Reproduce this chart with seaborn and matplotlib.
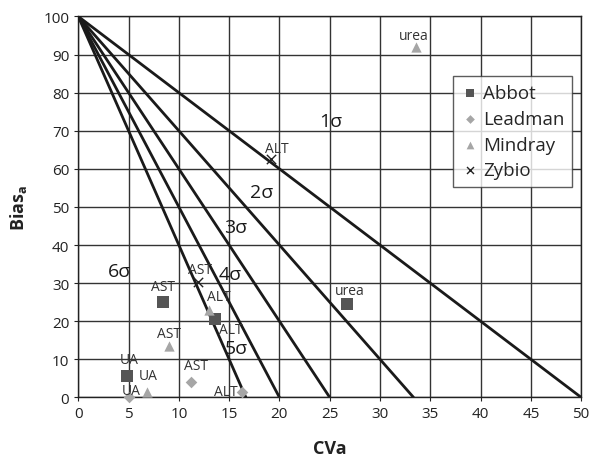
import matplotlib.pyplot as plt
import numpy as np
import pandas as pd
import seaborn as sns

# data
brands = ["Abbot"] * 4 + ["Leadman"] * 3 + ["Mindray"] * 4 + ["Zybio"] * 2
analytes = ["AST", "ALT", "UA", "urea",
            "AST", "ALT", "UA",
            "urea", "ALT", "AST", "UA",
            "ALT", "AST"]
cva = [8.4, 13.6, 4.8, 26.7,
       11.2, 16.3, 5.0,
       33.6, 13.0, 9.0, 6.8,
       19.2, 11.9]
bias = [25.0, 20.5, 5.7, 24.4,
        4.1, 1.3, 0.0,
        92.0, 23.0, 13.5, 1.5,
        62.5, 30.2]

line_divisors = [2, 3, 4, 5, 6]  # lines from (0,100) to (100/d, 0)
sigma_labels = ["1σ", "2σ", "3σ", "4σ", "5σ", "6σ"]
sigma_pos = [(25.1, 72.5), (18.2, 53.8), (15.6, 44.7), (15.1, 32.4), (15.7, 13.0), (4.1, 33.2)]

df = pd.DataFrame({"brand": brands, "analyte": analytes, "cva": cva, "bias": bias})

# label centre offsets (points) for each annotation
offsets = [(0, 11.5), (11.5, -7.2), (2, 11.5), (2, 10),
           (3.6, 11.5), (-11.5, 0.7), (1.7, 5),
           (-2, 8.6), (6.7, 9.6), (0, 9), (1, 11.5),
           (4, 8), (1.7, 9)]

sns.set_style("white")
plt.rcParams["font.family"] = ["Open Sans", "DejaVu Sans"]
plt.rcParams["mathtext.default"] = "regular"

fig = plt.figure(figsize=(5.93, 4.60), dpi=100)
ax = fig.add_axes([0.132, 0.134, 0.848, 0.828])

ax.grid(True, color="#333333", linewidth=1.0)
ax.set_axisbelow(True)

for d in line_divisors:
    ld = pd.DataFrame({"x": [0, 100 / d], "y": [100, 0]})
    sns.lineplot(data=ld, x="x", y="y", color="#1a1a1a", linewidth=2.0, ax=ax, zorder=3)

palette = {"Abbot": "#555555", "Leadman": "#a6a6a6", "Mindray": "#a6a6a6", "Zybio": "#222222"}
markers = {"Abbot": "s", "Leadman": "D", "Mindray": "^", "Zybio": "x"}
sizes = {"Abbot": 70, "Leadman": 35, "Mindray": 55, "Zybio": 45}
for b in ["Abbot", "Leadman", "Mindray", "Zybio"]:
    sub = df[df.brand == b]
    sns.scatterplot(data=sub, x="cva", y="bias", color=palette[b], marker=markers[b],
                    s=sizes[b], linewidth=1.0 if b == "Zybio" else 0, label=b, ax=ax,
                    zorder=4, clip_on=False)

for (x, y, t), off in zip(zip(df.cva, df.bias, df.analyte), offsets):
    ax.annotate(t, (x, y), xytext=off, textcoords="offset points", ha="center",
                va="center", fontsize=10, color="#333333", zorder=5)

for lab, (x, y) in zip(sigma_labels, sigma_pos):
    ax.text(x, y, lab, fontsize=14, ha="center", va="center", color="#1a1a1a", zorder=5)

ax.set_xlim(0, 50)
ax.set_ylim(0, 100)
ax.set_xticks(np.arange(0, 51, 5))
ax.set_yticks(np.arange(0, 101, 10))
ax.tick_params(labelsize=11, colors="#222222", length=3, direction="out", left=True, bottom=True)
for s in ax.spines.values():
    s.set_color("#222222")
    s.set_linewidth(1.0)

ax.set_xlabel("CVa", fontsize=13, fontweight="bold", color="#222222", labelpad=13)
ax.set_ylabel("Bias$_a$", fontsize=13, fontweight="bold", color="#222222", labelpad=10)

leg = ax.legend(loc="upper left", bbox_to_anchor=(0.745, 0.843), frameon=True, fontsize=13.5,
                handletextpad=0.2, borderpad=0.4, labelspacing=0.42, handlelength=1.0,
                markerscale=0.75, fancybox=False, edgecolor="#333333", borderaxespad=0)
leg.get_frame().set_linewidth(1.0)
leg.set_zorder(6)

fig.savefig("out.png", dpi=100)
